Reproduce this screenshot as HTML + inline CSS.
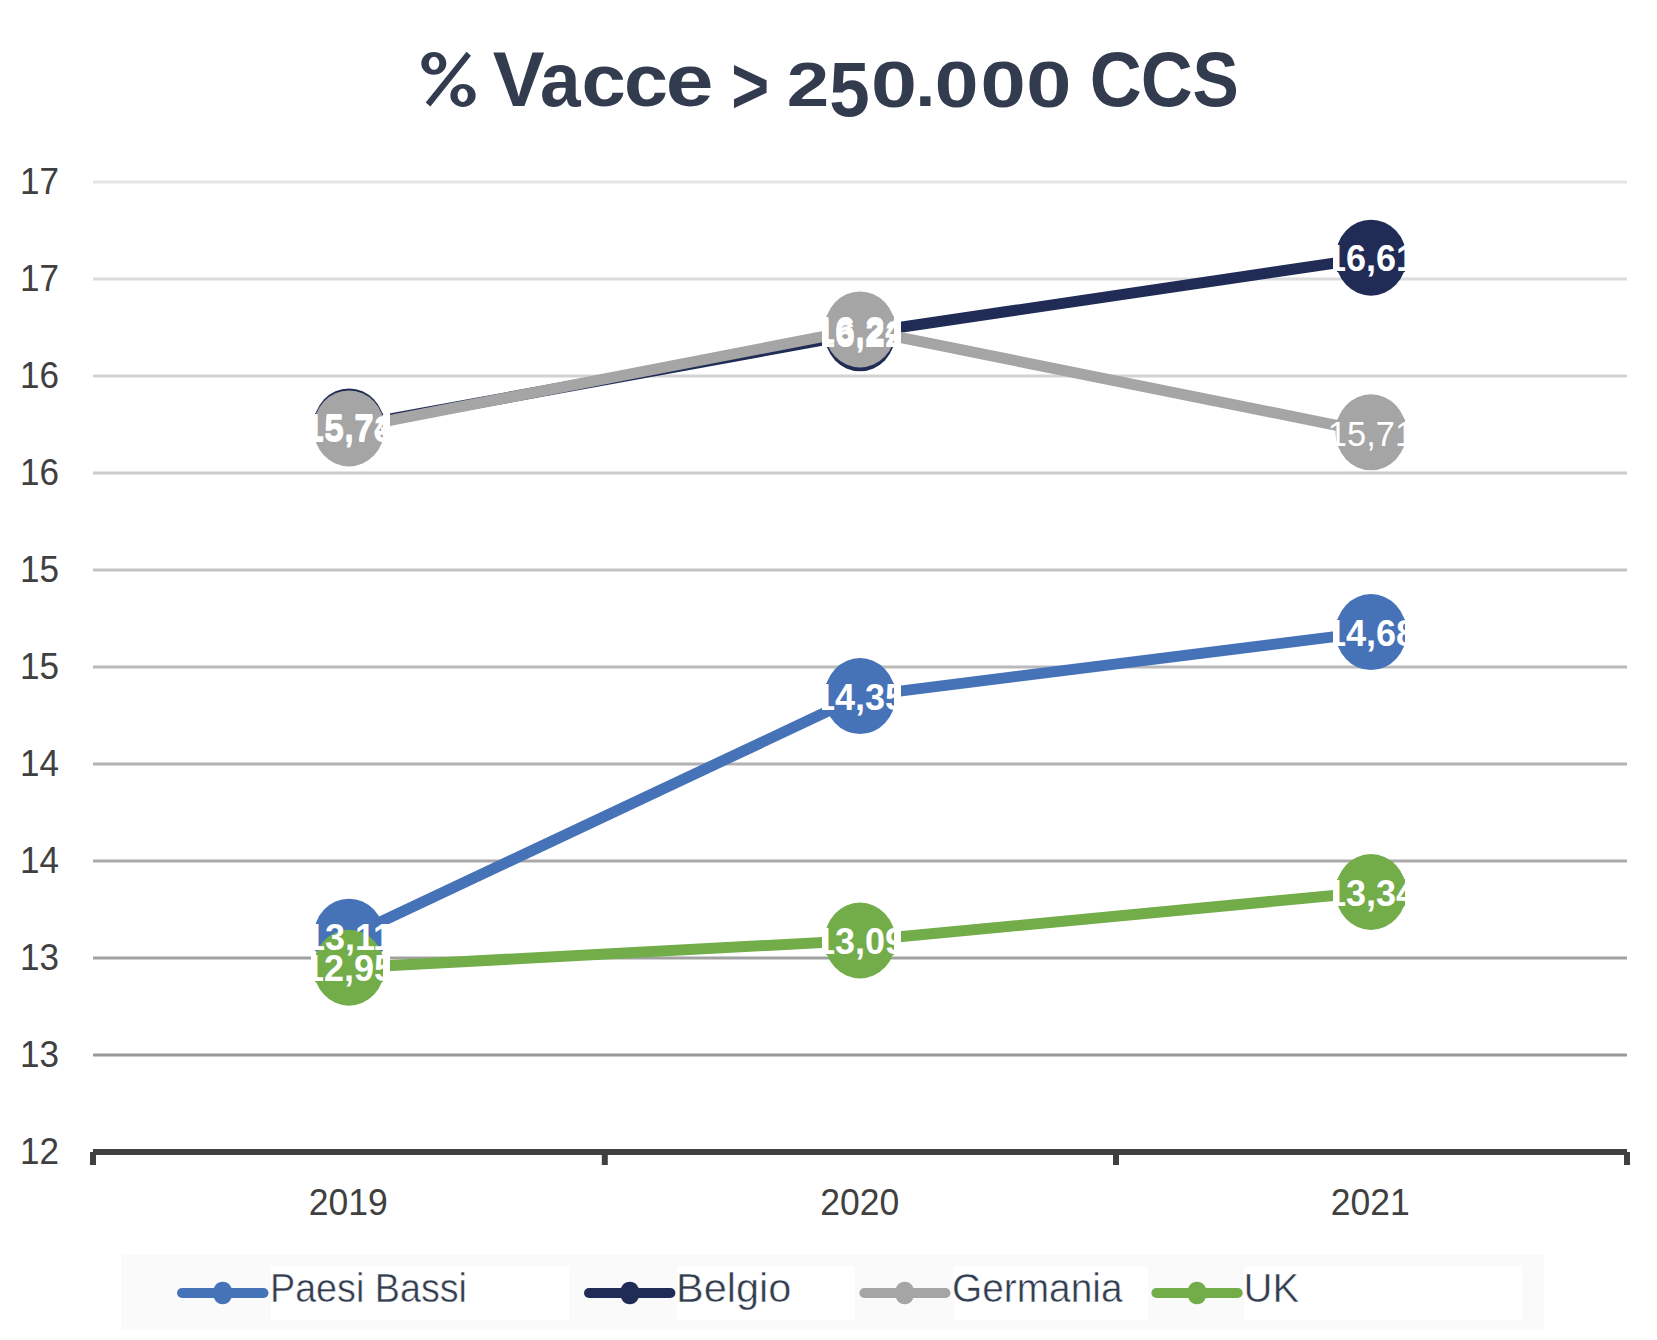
<!DOCTYPE html>
<html><head><meta charset="utf-8"><style>
html,body{margin:0;padding:0;background:#fff;}
body{width:1657px;height:1340px;overflow:hidden;position:relative;}
svg{position:absolute;left:0;top:0;}
.ax{font-family:"Liberation Sans",sans-serif;font-size:37px;fill:#404040;}
.dl{font-family:"Liberation Sans",sans-serif;font-size:36px;font-weight:bold;fill:#fff;}
.lg{font-family:"Liberation Sans",sans-serif;font-size:41px;fill:#333d50;stroke:#fff;stroke-width:0.5px;}
.tt{font-family:"Liberation Sans",sans-serif;font-size:100px;font-weight:bold;fill:#333c4f;}
</style></head><body>
<svg width="1657" height="1340" viewBox="0 0 1657 1340">
<path fill-rule="evenodd" fill="#333c4f" d="M421.30,63.40 a12.50,11.35 0 1,0 25.00,0 a12.50,11.35 0 1,0 -25.00,0 ZM428.80,63.30 a5.25,6.50 0 1,0 10.50,0 a5.25,6.50 0 1,0 -10.50,0 ZM450.35,95.40 a12.65,11.50 0 1,0 25.30,0 a12.65,11.50 0 1,0 -25.30,0 ZM457.60,95.30 a5.10,6.70 0 1,0 10.20,0 a5.10,6.70 0 1,0 -10.20,0 Z"/><polygon fill="#333c4f" points="466.5,51.8 470.9,55.7 430.4,106.6 425.7,102.5"/>
<text transform="translate(492.67,106.00) scale(0.7776,0.7834)" x="0" y="0" class="tt">V</text>
<text transform="translate(539.96,105.86) scale(0.7296,0.7539)" x="0" y="0" class="tt">a</text>
<text transform="translate(581.58,105.87) scale(0.7975,0.7484)" x="0" y="0" class="tt">c</text>
<text transform="translate(624.11,105.87) scale(0.7913,0.7484)" x="0" y="0" class="tt">c</text>
<text transform="translate(665.65,105.88) scale(0.8573,0.7411)" x="0" y="0" class="tt">e</text>
<text transform="translate(731.27,112.63) scale(0.6501,0.7921)" x="0" y="0" class="tt">&gt;</text>
<text transform="translate(786.66,106.00) scale(0.7623,0.6387)" x="0" y="0" class="tt">2</text>
<text transform="translate(829.36,116.14) scale(0.7276,0.7782)" x="0" y="0" class="tt">5</text>
<text transform="translate(871.03,106.56) scale(0.8263,0.6539)" x="0" y="0" class="tt">0</text>
<text transform="translate(915.25,106.00) scale(0.7299,0.6446)" x="0" y="0" class="tt">.</text>
<text transform="translate(934.69,106.56) scale(0.7864,0.6539)" x="0" y="0" class="tt">0</text>
<text transform="translate(980.38,106.56) scale(0.8137,0.6539)" x="0" y="0" class="tt">0</text>
<text transform="translate(1026.29,106.56) scale(0.8116,0.6539)" x="0" y="0" class="tt">0</text>
<text transform="translate(1089.65,106.14) scale(0.7189,0.7754)" x="0" y="0" class="tt">C</text>
<text transform="translate(1140.65,106.14) scale(0.7189,0.7754)" x="0" y="0" class="tt">C</text>
<text transform="translate(1192.60,106.24) scale(0.6944,0.7768)" x="0" y="0" class="tt">S</text>
<rect x="93" y="180.5" width="1534" height="3" fill="#e4e4e4"/>
<rect x="93" y="277.5" width="1534" height="3" fill="#dcdcdc"/>
<rect x="93" y="374.5" width="1534" height="3" fill="#d3d3d3"/>
<rect x="93" y="471.5" width="1534" height="3" fill="#cbcbcb"/>
<rect x="93" y="568.5" width="1534" height="3" fill="#c3c3c3"/>
<rect x="93" y="665.5" width="1534" height="3" fill="#bababa"/>
<rect x="93" y="762.5" width="1534" height="3" fill="#b2b2b2"/>
<rect x="93" y="859.5" width="1534" height="3" fill="#aaaaaa"/>
<rect x="93" y="956.5" width="1534" height="3" fill="#a1a1a1"/>
<rect x="93" y="1053.5" width="1534" height="3" fill="#999999"/>
<rect x="93" y="1149" width="1534" height="6" fill="#404040"/>
<rect x="90.0" y="1152" width="6" height="13" fill="#404040"/>
<rect x="601.8" y="1152" width="6" height="13" fill="#404040"/>
<rect x="1113.0" y="1152" width="6" height="13" fill="#404040"/>
<rect x="1624.0" y="1152" width="6" height="13" fill="#404040"/>
<text x="59" y="194.0" text-anchor="end" class="ax" textLength="39" lengthAdjust="spacingAndGlyphs">17</text>
<text x="59" y="291.0" text-anchor="end" class="ax" textLength="39" lengthAdjust="spacingAndGlyphs">17</text>
<text x="59" y="388.0" text-anchor="end" class="ax" textLength="39" lengthAdjust="spacingAndGlyphs">16</text>
<text x="59" y="485.0" text-anchor="end" class="ax" textLength="39" lengthAdjust="spacingAndGlyphs">16</text>
<text x="59" y="582.0" text-anchor="end" class="ax" textLength="39" lengthAdjust="spacingAndGlyphs">15</text>
<text x="59" y="679.0" text-anchor="end" class="ax" textLength="39" lengthAdjust="spacingAndGlyphs">15</text>
<text x="59" y="776.0" text-anchor="end" class="ax" textLength="39" lengthAdjust="spacingAndGlyphs">14</text>
<text x="59" y="873.0" text-anchor="end" class="ax" textLength="39" lengthAdjust="spacingAndGlyphs">14</text>
<text x="59" y="970.0" text-anchor="end" class="ax" textLength="39" lengthAdjust="spacingAndGlyphs">13</text>
<text x="59" y="1067.0" text-anchor="end" class="ax" textLength="39" lengthAdjust="spacingAndGlyphs">13</text>
<text x="59" y="1164.0" text-anchor="end" class="ax" textLength="39" lengthAdjust="spacingAndGlyphs">12</text>
<text x="308.8" y="1215" class="ax" textLength="79" lengthAdjust="spacingAndGlyphs">2019</text>
<text x="820.2" y="1215" class="ax" textLength="79" lengthAdjust="spacingAndGlyphs">2020</text>
<text x="1330.8" y="1215" class="ax" textLength="79" lengthAdjust="spacingAndGlyphs">2021</text>
<polyline points="349,936.7 860,696.1 1371,632.1" fill="none" stroke="#4672b8" stroke-width="11" stroke-linejoin="round" stroke-linecap="round"/>
<ellipse cx="349" cy="936.7" rx="35.5" ry="38" fill="#4672b8"/>
<ellipse cx="860" cy="696.1" rx="35.5" ry="38" fill="#4672b8"/>
<ellipse cx="1371" cy="632.1" rx="35.5" ry="38" fill="#4672b8"/>
<rect x="311" y="924" width="79" height="27" fill="#fff" shape-rendering="crispEdges"/>
<rect x="315" y="924" width="68" height="27" fill="#4672b8" shape-rendering="crispEdges"/>
<rect x="822" y="683" width="79" height="27" fill="#fff" shape-rendering="crispEdges"/>
<rect x="826" y="683" width="68" height="27" fill="#4672b8" shape-rendering="crispEdges"/>
<rect x="1333" y="619" width="79" height="27" fill="#fff" shape-rendering="crispEdges"/>
<rect x="1337" y="619" width="68" height="27" fill="#4672b8" shape-rendering="crispEdges"/>
<polyline points="349,426.4 860,333.3 1371,257.7" fill="none" stroke="#202c56" stroke-width="11" stroke-linejoin="round" stroke-linecap="round"/>
<ellipse cx="349" cy="426.4" rx="35.5" ry="38" fill="#202c56"/>
<ellipse cx="860" cy="333.3" rx="35.5" ry="38" fill="#202c56"/>
<ellipse cx="1371" cy="257.7" rx="35.5" ry="38" fill="#202c56"/>
<rect x="311" y="413" width="79" height="27" fill="#fff" shape-rendering="crispEdges"/>
<rect x="315" y="413" width="68" height="27" fill="#202c56" shape-rendering="crispEdges"/>
<rect x="822" y="320" width="79" height="27" fill="#fff" shape-rendering="crispEdges"/>
<rect x="826" y="320" width="68" height="27" fill="#202c56" shape-rendering="crispEdges"/>
<rect x="1333" y="245" width="79" height="27" fill="#fff" shape-rendering="crispEdges"/>
<rect x="1337" y="245" width="68" height="27" fill="#202c56" shape-rendering="crispEdges"/>
<polyline points="349,428.4 860,329.4 1371,432.3" fill="none" stroke="#a5a5a5" stroke-width="11" stroke-linejoin="round" stroke-linecap="round"/>
<ellipse cx="349" cy="428.4" rx="35.5" ry="38" fill="#a5a5a5"/>
<ellipse cx="860" cy="329.4" rx="35.5" ry="38" fill="#a5a5a5"/>
<ellipse cx="1371" cy="432.3" rx="35.5" ry="38" fill="#a5a5a5"/>
<rect x="311" y="415" width="79" height="27" fill="#fff" shape-rendering="crispEdges"/>
<rect x="315" y="415" width="68" height="27" fill="#a5a5a5" shape-rendering="crispEdges"/>
<rect x="822" y="316" width="79" height="27" fill="#fff" shape-rendering="crispEdges"/>
<rect x="826" y="316" width="68" height="27" fill="#a5a5a5" shape-rendering="crispEdges"/>
<rect x="1337" y="419" width="68" height="27" fill="#a5a5a5" shape-rendering="crispEdges"/>
<polyline points="349,967.7 860,940.5 1371,892.0" fill="none" stroke="#72ad4a" stroke-width="11" stroke-linejoin="round" stroke-linecap="round"/>
<ellipse cx="349" cy="967.7" rx="35.5" ry="38" fill="#72ad4a"/>
<ellipse cx="860" cy="940.5" rx="35.5" ry="38" fill="#72ad4a"/>
<ellipse cx="1371" cy="892.0" rx="35.5" ry="38" fill="#72ad4a"/>
<rect x="311" y="955" width="79" height="27" fill="#fff" shape-rendering="crispEdges"/>
<rect x="315" y="955" width="68" height="27" fill="#72ad4a" shape-rendering="crispEdges"/>
<rect x="822" y="928" width="79" height="27" fill="#fff" shape-rendering="crispEdges"/>
<rect x="826" y="928" width="68" height="27" fill="#72ad4a" shape-rendering="crispEdges"/>
<rect x="1333" y="879" width="79" height="27" fill="#fff" shape-rendering="crispEdges"/>
<rect x="1337" y="879" width="68" height="27" fill="#72ad4a" shape-rendering="crispEdges"/>
<defs><clipPath id="c00"><rect x="313.5" y="896.7" width="72.0" height="80"/></clipPath><clipPath id="c01"><rect x="824.5" y="656.1" width="72.0" height="80"/></clipPath><clipPath id="c02"><rect x="1335.5" y="592.1" width="72.0" height="80"/></clipPath><clipPath id="c10"><rect x="313.5" y="386.4" width="72.0" height="80"/></clipPath><clipPath id="c11"><rect x="824.5" y="293.3" width="72.0" height="80"/></clipPath><clipPath id="c12"><rect x="1335.5" y="217.7" width="72.0" height="80"/></clipPath><clipPath id="c20"><rect x="313.5" y="388.4" width="72.0" height="80"/></clipPath><clipPath id="c21"><rect x="824.5" y="289.4" width="72.0" height="80"/></clipPath><clipPath id="c22"><rect x="1325.0" y="392.3" width="82.5" height="80"/></clipPath><clipPath id="c30"><rect x="313.5" y="927.7" width="72.0" height="80"/></clipPath><clipPath id="c31"><rect x="824.5" y="900.5" width="72.0" height="80"/></clipPath><clipPath id="c32"><rect x="1335.5" y="852.0" width="72.0" height="80"/></clipPath></defs>
<text x="349" y="950.2" text-anchor="middle" class="dl" clip-path="url(#c00)">13,11</text>
<text x="860" y="709.6" text-anchor="middle" class="dl" clip-path="url(#c01)">14,35</text>
<text x="1371" y="645.6" text-anchor="middle" class="dl" clip-path="url(#c02)">14,68</text>
<text x="349" y="439.9" text-anchor="middle" class="dl" clip-path="url(#c10)">15,74</text>
<text x="860" y="346.8" text-anchor="middle" class="dl" clip-path="url(#c11)">16,22</text>
<text x="1371" y="271.2" text-anchor="middle" class="dl" clip-path="url(#c12)">16,61</text>
<text x="349" y="441.9" text-anchor="middle" class="dl" clip-path="url(#c20)">15,73</text>
<text x="860" y="342.9" text-anchor="middle" class="dl" clip-path="url(#c21)">16,24</text>
<text x="1371" y="445.8" text-anchor="middle" class="dl" style="font-weight:normal;font-size:34.5px" clip-path="url(#c22)">15,71</text>
<text x="349" y="981.2" text-anchor="middle" class="dl" clip-path="url(#c30)">12,95</text>
<text x="860" y="954.0" text-anchor="middle" class="dl" clip-path="url(#c31)">13,09</text>
<text x="1371" y="905.5" text-anchor="middle" class="dl" clip-path="url(#c32)">13,34</text>
<rect x="121" y="1254.5" width="1423" height="75.5" fill="#fafafa"/>
<rect x="271" y="1266.3" width="298" height="54" fill="#ffffff"/>
<line x1="182" y1="1293" x2="263.5" y2="1293" stroke="#4672b8" stroke-width="10" stroke-linecap="round"/>
<ellipse cx="222.7" cy="1293" rx="10" ry="11.3" fill="#4672b8"/>
<text x="270" y="1301.7" class="lg" textLength="197" lengthAdjust="spacingAndGlyphs">Paesi Bassi</text>
<rect x="677" y="1266.3" width="178" height="54" fill="#ffffff"/>
<line x1="589" y1="1293" x2="670.4" y2="1293" stroke="#202c56" stroke-width="10" stroke-linecap="round"/>
<ellipse cx="629.8" cy="1293" rx="10" ry="11.3" fill="#202c56"/>
<text x="676" y="1301.7" class="lg" textLength="115.4" lengthAdjust="spacingAndGlyphs">Belgio</text>
<rect x="954" y="1266.3" width="194" height="54" fill="#ffffff"/>
<line x1="864.4" y1="1293" x2="945.5" y2="1293" stroke="#a5a5a5" stroke-width="10" stroke-linecap="round"/>
<ellipse cx="904.7" cy="1293" rx="10" ry="11.3" fill="#a5a5a5"/>
<text x="952" y="1301.7" class="lg" textLength="170.5" lengthAdjust="spacingAndGlyphs">Germania</text>
<rect x="1244" y="1266.3" width="278" height="54" fill="#ffffff"/>
<line x1="1156.4" y1="1293" x2="1237.7" y2="1293" stroke="#72ad4a" stroke-width="10" stroke-linecap="round"/>
<ellipse cx="1197" cy="1293" rx="10" ry="11.3" fill="#72ad4a"/>
<text x="1243.5" y="1301.7" class="lg" textLength="55.7" lengthAdjust="spacingAndGlyphs">UK</text>
</svg>
</body></html>
